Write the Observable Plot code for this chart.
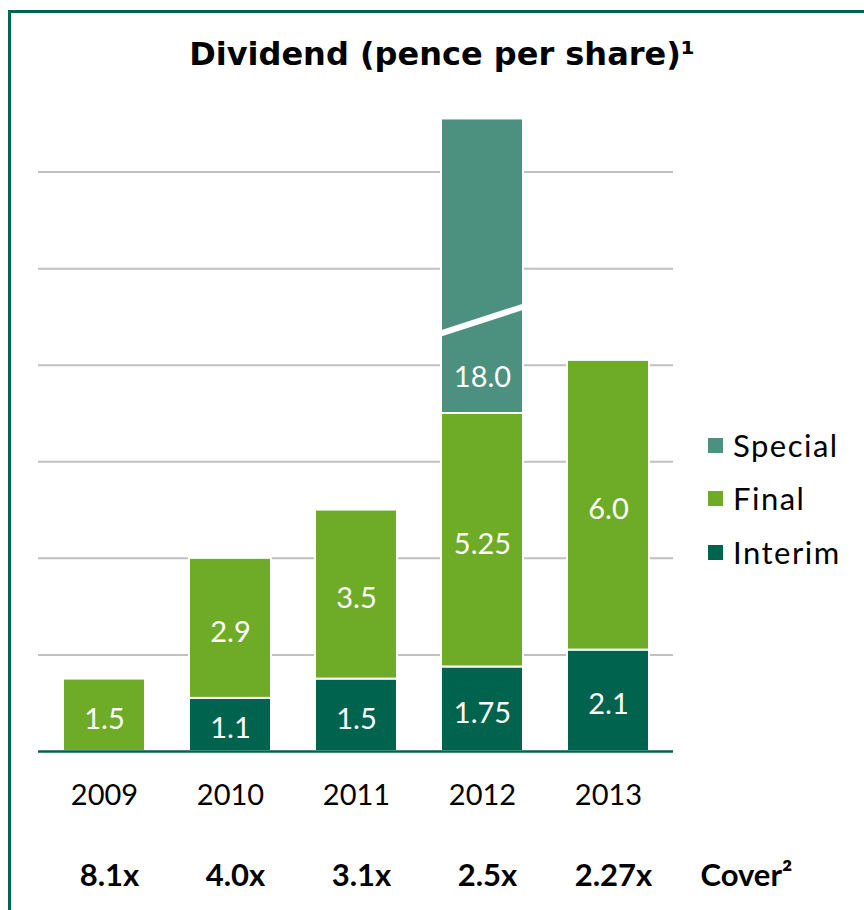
<!DOCTYPE html>
<html><head><meta charset="utf-8">
<script src="https://cdn.jsdelivr.net/npm/d3@7"></script>
<script src="https://cdn.jsdelivr.net/npm/@observablehq/plot@0.6"></script>
<style>
body{margin:0;background:#fff;}
#wrap{position:relative;width:864px;height:910px;overflow:hidden;font-family:Lato,"DejaVu Sans",sans-serif;color:#000;}
#border{position:absolute;left:8px;top:10px;width:950px;height:1000px;border-left:3px solid #00664f;border-top:3px solid #00664f;}
#title{position:absolute;top:35px;left:0;width:884px;text-align:center;font-weight:bold;font-size:32px;font-family:"DejaVu Sans",sans-serif;}
#chart{position:absolute;left:0;top:0;}
.leg{position:absolute;left:708px;font-size:31px;letter-spacing:1.5px;display:flex;align-items:center;}
.leg span.sw{display:inline-block;width:15px;height:15px;margin-right:10px;}
</style></head>
<body>
<div id="wrap">
  <div id="border"></div>
  <div id="chart"></div>
  <div id="title">Dividend (pence per share)¹</div>
  <div id="legend"></div>
</div>
<script>
const years = ["2009", "2010", "2011", "2012", "2013"];
const interim = [0, 1.1, 1.5, 1.75, 2.1];
const final = [1.5, 2.9, 3.5, 5.25, 6.0];
const special = [0, 0, 0, 18.0, 0];
const cover = ["8.1x", "4.0x", "3.1x", "2.5x", "2.27x"];
const coverLabel = "Cover²";
const seriesNames = ["Interim", "Final", "Special"];
const seriesColors = ["#00634e", "#6eab27", "#4c9080"];
const legendOrder = ["Special", "Final", "Interim"];
const yTicks = [2, 4, 6, 8, 10, 12];
// broken axis: the 2012 special bar is drawn cut off at this height
const axisBreakTop = 13.1;
const breakFrom = 8.65, breakTo = 9.2;

const seriesValues = {Interim: interim, Final: final, Special: special};
const fmt = v => Math.abs(v * 10 - Math.round(v * 10)) < 1e-9 ? v.toFixed(1) : v.toFixed(2);

const rows = [];
years.forEach((year, i) => {
  let base = 0;
  seriesNames.forEach(s => {
    const v = seriesValues[s][i];
    if (!v) return;
    const shown = s === "Special" ? Math.min(v, axisBreakTop - base) : v;
    const top = base + shown;
    const labelTop = s === "Special" ? Math.min(top, breakFrom) : top;
    rows.push({year, series: s, value: v, y1: base, y2: top, ym: (base + labelTop) / 2, label: fmt(v)});
    base = top;
  });
});

const breakYear = years[special.findIndex(v => v > 0)];

function breakMark(index, scales) {
  const x = scales.x, y = scales.y;
  const x0 = x(breakYear), bw = x.bandwidth();
  const line = document.createElementNS("http://www.w3.org/2000/svg", "line");
  line.setAttribute("x1", x0);
  line.setAttribute("x2", x0 + bw);
  line.setAttribute("y1", y(breakFrom));
  line.setAttribute("y2", y(breakTo));
  line.setAttribute("stroke", "#fff");
  line.setAttribute("stroke-width", 6);
  return line;
}

const font = 'Lato, "DejaVu Sans", sans-serif';
const plot = Plot.plot({
  width: 864,
  height: 910,
  marginLeft: 38,
  marginRight: 191,
  marginTop: 75,
  marginBottom: 159,
  style: {fontFamily: font, background: "transparent", overflow: "visible"},
  x: {type: "band", domain: years, paddingInner: 0.35, paddingOuter: 0.18, axis: null},
  y: {domain: [0, 14], axis: null},
  color: {domain: seriesNames, range: seriesColors},
  marks: [
    Plot.ruleY(yTicks, {stroke: "#c0c0c0", strokeWidth: 2}),
    Plot.barY(rows, {x: "year", y1: "y1", y2: "y2", fill: "series", stroke: "#fff", strokeWidth: 2}),
    Plot.ruleY([0], {stroke: "#00634e", strokeWidth: 2.5}),
    breakMark,
    Plot.text(rows, {x: "year", y: "ym", text: "label", fill: "#fff", fontSize: 29, dy: 4}),
    Plot.text(years, {x: d => d, text: d => d, frameAnchor: "bottom", dy: 53, fontSize: 29, fill: "#000"}),
    Plot.text(cover, {x: (d, i) => years[i], text: d => d, frameAnchor: "bottom", dy: 134, dx: 5, fontSize: 31, fontWeight: "bold", fill: "#000"}),
    Plot.text([coverLabel], {text: d => d, frameAnchor: "bottom-right", dx: 27, dy: 134, textAnchor: "start", fontSize: 31, fontWeight: "bold", fill: "#000", style: {letterSpacing: "1.5px"}})
  ]
});
document.getElementById("chart").appendChild(plot);

const legendTops = {Special: 445, Final: 498, Interim: 552};
const leg = document.getElementById("legend");
legendOrder.forEach(s => {
  const d = document.createElement("div");
  d.className = "leg";
  d.style.top = (legendTops[s] - 18) + "px";
  d.style.height = "36px";
  d.innerHTML = `<span class="sw" style="background:${seriesColors[seriesNames.indexOf(s)]}"></span><span>${s}</span>`;
  leg.appendChild(d);
});
</script>
</body></html>
